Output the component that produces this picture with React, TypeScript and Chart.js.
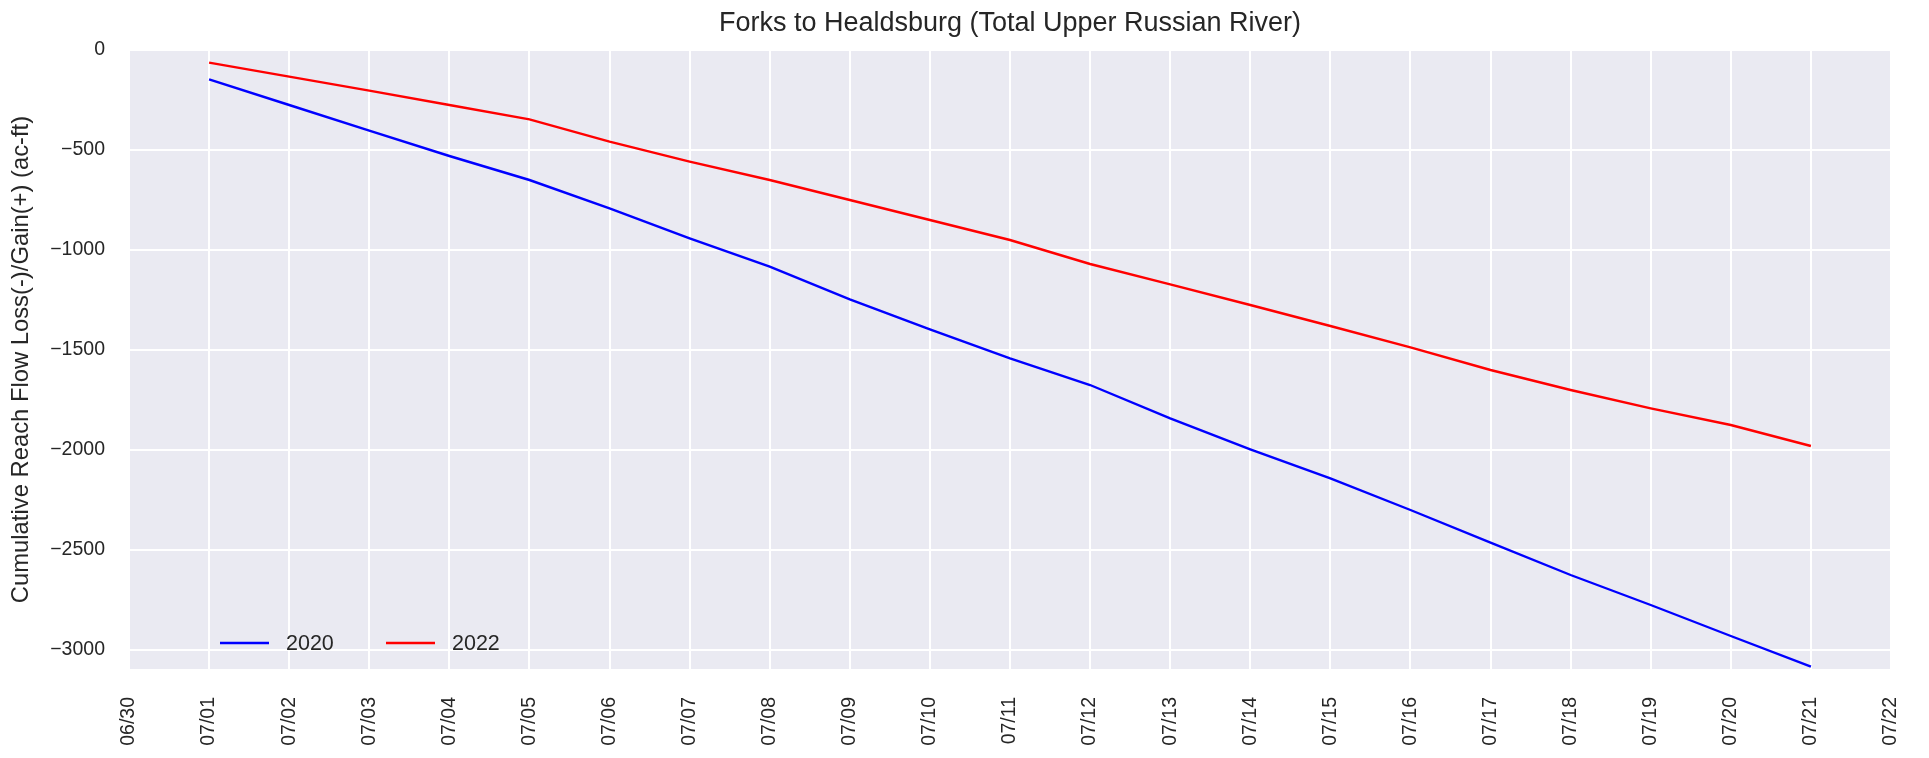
import React, { useEffect, useRef } from 'react';
import { Chart, registerables } from 'chart.js';

Chart.register(...registerables);

const TITLE = 'Forks to Healdsburg (Total Upper Russian River)';
const Y_LABEL = 'Cumulative Reach Flow Loss(-)/Gain(+) (ac-ft)';

const X_TICK_LABELS = [
  '06/30', '07/01', '07/02', '07/03', '07/04', '07/05', '07/06', '07/07',
  '07/08', '07/09', '07/10', '07/11', '07/12', '07/13', '07/14', '07/15',
  '07/16', '07/17', '07/18', '07/19', '07/20', '07/21', '07/22',
];

const DATES = [
  '07/01', '07/02', '07/03', '07/04', '07/05', '07/06', '07/07',
  '07/08', '07/09', '07/10', '07/11', '07/12', '07/13', '07/14',
  '07/15', '07/16', '07/17', '07/18', '07/19', '07/20', '07/21',
];

const FLOW_2020 = [
  -147, -275, -403, -530, -650, -792, -942, -1083, -1247, -1397, -1542,
  -1675, -1842, -1997, -2142, -2300, -2463, -2625, -2775, -2930, -3083,
];

const FLOW_2022 = [
  -63, -133, -203, -275, -347, -458, -558, -650, -750, -850, -950,
  -1070, -1172, -1275, -1380, -1487, -1600, -1700, -1792, -1875, -1980,
];

const Y_TICKS = [0, -500, -1000, -1500, -2000, -2500, -3000];
const Y_MIN = -3095;
const Y_MAX = 0;

const SERIES_NAMES = ['2020', '2022'];
const SERIES_COLORS = ['#0000ff', '#ff0000'];

const FONT = "'Liberation Sans', Arial, Helvetica, sans-serif";
const TEXT_COLOR = '#262626';

const toPoints = (values: number[]) =>
  DATES.map((d, i) => ({ x: X_TICK_LABELS.indexOf(d), y: values[i] }));

const plotBackground = {
  id: 'plotBackground',
  beforeDraw(chart: any) {
    const { ctx, chartArea: a } = chart;
    ctx.save();
    ctx.fillStyle = '#eaeaf2';
    ctx.fillRect(a.left, a.top, a.right - a.left, a.bottom - a.top);
    ctx.restore();
  },
};

const inlineLegend = {
  id: 'inlineLegend',
  afterDatasetsDraw(chart: any) {
    const { ctx, chartArea: a } = chart;
    const y = a.bottom - 26;
    let x = a.left + 91;
    ctx.save();
    ctx.font = `21.5px ${FONT}`;
    ctx.textBaseline = 'middle';
    ctx.textAlign = 'left';
    chart.data.datasets.forEach((ds: any) => {
      ctx.strokeStyle = ds.borderColor;
      ctx.lineWidth = 2.5;
      ctx.beginPath();
      ctx.moveTo(x, y);
      ctx.lineTo(x + 49, y);
      ctx.stroke();
      ctx.fillStyle = TEXT_COLOR;
      ctx.fillText(ds.label, x + 66, y + 1);
      x += 166;
    });
    ctx.restore();
  },
};

export default function App() {
  const canvasRef = useRef<HTMLCanvasElement | null>(null);

  useEffect(() => {
    if (!canvasRef.current) return;
    const chart = new Chart(canvasRef.current, {
      type: 'line',
      data: {
        datasets: [
          {
            label: SERIES_NAMES[0],
            data: toPoints(FLOW_2020),
            borderColor: SERIES_COLORS[0],
            backgroundColor: SERIES_COLORS[0],
            borderWidth: 2.4,
            pointRadius: 0,
            tension: 0,
          },
          {
            label: SERIES_NAMES[1],
            data: toPoints(FLOW_2022),
            borderColor: SERIES_COLORS[1],
            backgroundColor: SERIES_COLORS[1],
            borderWidth: 2.4,
            pointRadius: 0,
            tension: 0,
          },
        ],
      },
      options: {
        responsive: false,
        animation: false,
        layout: { padding: { left: 0, right: 38, top: 0, bottom: 0 } },
        plugins: {
          legend: { display: false },
          tooltip: { enabled: false },
          title: {
            display: true,
            fullSize: false,
            text: TITLE,
            color: TEXT_COLOR,
            font: { family: FONT, size: 27, weight: 'normal' },
            padding: { top: 7.5, bottom: 10.1 },
          },
        },
        scales: {
          x: {
            type: 'linear',
            min: 0,
            max: X_TICK_LABELS.length - 1,
            offset: false,
            afterBuildTicks: (scale: any) => {
              scale.ticks = X_TICK_LABELS.map((_, i) => ({ value: i }));
            },
            afterFit: (scale: any) => {
              scale.height = 89;
              scale.paddingLeft = 0;
              scale.paddingRight = 0;
            },
            grid: { color: '#ffffff', lineWidth: 2, drawTicks: false },
            border: { display: false },
            ticks: {
              autoSkip: false,
              minRotation: 90,
              maxRotation: 90,
              padding: 28,
              color: TEXT_COLOR,
              font: { family: FONT, size: 19.5 },
              callback: (v: any) => X_TICK_LABELS[Math.round(Number(v))] ?? '',
            },
          },
          y: {
            type: 'linear',
            min: Y_MIN,
            max: Y_MAX,
            afterBuildTicks: (scale: any) => {
              scale.ticks = Y_TICKS.map((v) => ({ value: v }));
            },
            afterFit: (scale: any) => {
              scale.width = 129;
              scale.paddingTop = 0;
              scale.paddingBottom = 0;
            },
            grid: { color: '#ffffff', lineWidth: 2, drawTicks: false },
            border: { display: false },
            title: {
              display: true,
              text: Y_LABEL,
              color: TEXT_COLOR,
              font: { family: FONT, size: 23.8 },
              padding: { top: 7.5, bottom: 0 },
            },
            ticks: {
              padding: 24,
              color: TEXT_COLOR,
              font: { family: FONT, size: 19.5 },
              callback: (v: any) => {
                const n = Number(v);
                return n < 0 ? '\u2212' + Math.abs(n) : String(n);
              },
            },
          },
        },
      },
      plugins: [plotBackground, inlineLegend],
    });
    return () => chart.destroy();
  }, []);

  return (
    <div style={{ position: 'fixed', left: 0, top: 0, width: 1929, height: 758, background: '#ffffff' }}>
      <canvas ref={canvasRef} width={1929} height={758} style={{ width: 1929, height: 758, display: 'block' }} />
    </div>
  );
}
